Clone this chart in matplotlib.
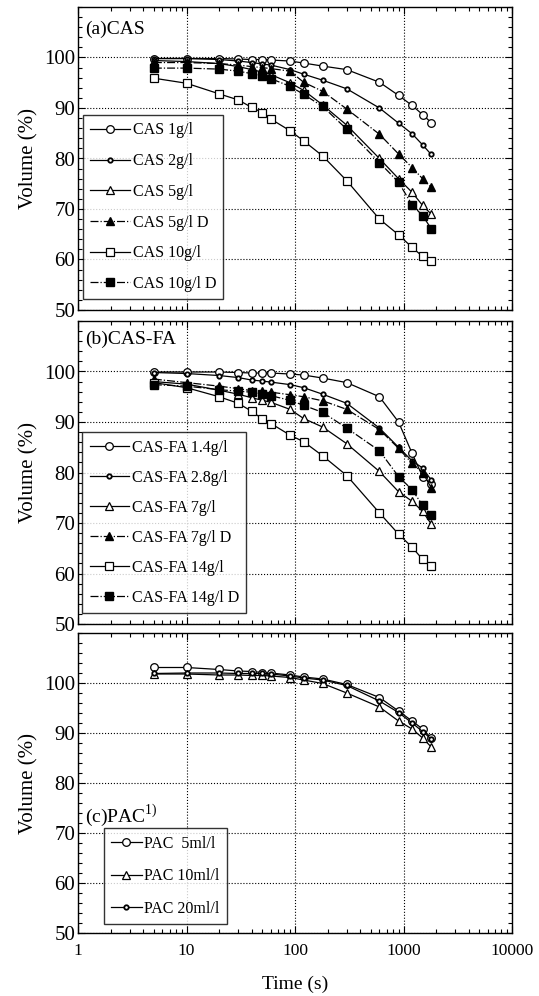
import numpy as np
import matplotlib
matplotlib.use("Agg")
import matplotlib.pyplot as plt
from matplotlib.ticker import MultipleLocator, LogLocator, NullFormatter

plt.rcParams['font.family'] = ['Liberation Serif', 'DejaVu Serif']
plt.rcParams['mathtext.fontset'] = 'custom'
plt.rcParams['mathtext.rm'] = 'Liberation Serif'

# time points (s)
t = np.array([5, 10, 20, 30, 40, 50, 60, 90, 120, 180, 300, 600, 900, 1200, 1500, 1800])

# (a) CAS
cas_1 = [99.8, 99.8, 99.8, 99.7, 99.6, 99.6, 99.5, 99.3, 98.9, 98.3, 97.6, 95.1, 92.5, 90.5, 88.7, 87.1]
cas_2 = [99.8, 99.8, 99.6, 99.3, 99.0, 98.7, 98.5, 97.6, 96.7, 95.5, 93.8, 90.0, 87.0, 84.9, 82.7, 80.8]
cas_5 = [99.4, 99.2, 98.8, 98.2, 97.6, 97.1, 96.6, 95.0, 93.5, 90.6, 86.6, 80.0, 76.0, 73.3, 70.7, 69.0]
cas_5d = [99.0, 99.0, 98.8, 98.5, 98.2, 98.0, 97.8, 97.3, 95.1, 93.3, 89.8, 84.8, 80.9, 78.2, 76.0, 74.3]
cas_10 = [95.9, 94.9, 92.8, 91.6, 90.1, 89.1, 87.8, 85.5, 83.5, 80.5, 75.6, 68.0, 64.9, 62.4, 60.6, 59.8]
cas_10d = [97.9, 97.9, 97.7, 97.3, 96.8, 96.3, 95.8, 94.3, 92.7, 90.3, 85.8, 79.2, 75.3, 70.8, 68.7, 66.1]

# (b) CAS-FA
fa_14 = [99.9, 99.9, 99.9, 99.8, 99.7, 99.7, 99.7, 99.5, 99.3, 98.7, 97.8, 95.0, 90.0, 83.8, 79.2, 77.8]
fa_28 = [99.8, 99.6, 99.2, 98.8, 98.3, 98.1, 97.9, 97.4, 96.8, 95.5, 93.7, 88.8, 85.0, 82.3, 80.9, 78.5]
fa_7 = [98.0, 97.5, 96.3, 95.5, 94.8, 94.3, 93.9, 92.5, 90.7, 89.0, 85.7, 80.2, 76.2, 74.3, 72.3, 69.8]
fa_7d = [98.5, 97.8, 97.1, 96.6, 96.2, 96.1, 95.9, 95.4, 95.0, 94.2, 92.5, 88.5, 84.8, 81.8, 80.0, 77.0]
fa_14g = [97.8, 96.8, 95.0, 93.7, 92.1, 90.6, 89.7, 87.4, 86.1, 83.3, 79.4, 72.0, 67.8, 65.2, 62.8, 61.4]
fa_14d = [97.4, 97.1, 96.4, 96.1, 95.9, 95.5, 95.2, 94.3, 93.3, 91.9, 88.8, 84.3, 79.2, 76.6, 73.5, 71.6]

# (c) PAC
pac_5 = [103.1, 103.1, 102.7, 102.4, 102.3, 102.1, 102.0, 101.6, 101.2, 100.8, 99.7, 97.1, 94.4, 92.4, 90.8, 89.0]
pac_10 = [101.8, 101.8, 101.6, 101.6, 101.5, 101.5, 101.4, 101.1, 100.6, 99.9, 98.0, 95.2, 92.4, 90.8, 89.0, 87.2]
pac_20 = [101.9, 102.0, 102.0, 101.9, 101.9, 101.9, 101.8, 101.4, 101.0, 100.6, 99.5, 96.4, 94.1, 92.0, 90.3, 88.8]

fig = plt.figure(figsize=(5.39, 9.96), dpi=100)
left, width = 78 / 539, 434 / 539
ax_a = fig.add_axes([left, 1 - 310 / 996, width, 303 / 996])
ax_b = fig.add_axes([left, 1 - 624 / 996, width, 303 / 996])
ax_c = fig.add_axes([left, 1 - 933 / 996, width, 300 / 996])

open_kw = dict(mfc='white', mec='black', mew=0.9, color='black', lw=0.9)
dot_kw = dict(mfc='white', mec='black', mew=1.3, color='black', lw=0.9)
fill_kw = dict(mfc='black', mec='black', color='black', lw=0.9)

ax_a.plot(t, cas_1, '-o', ms=5.5, label='CAS 1g/l', **open_kw)
ax_a.plot(t, cas_2, '-o', ms=3.2, label='CAS 2g/l', **dot_kw)
ax_a.plot(t, cas_5, '-^', ms=5.5, label='CAS 5g/l', **open_kw)
ax_a.plot(t, cas_5d, '-.^', ms=5.5, label='CAS 5g/l D', **fill_kw)
ax_a.plot(t, cas_10, '-s', ms=5.5, label='CAS 10g/l', **open_kw)
ax_a.plot(t, cas_10d, '-.s', ms=5.5, label='CAS 10g/l D', **fill_kw)

ax_b.plot(t, fa_14, '-o', ms=5.5, label='CAS-FA 1.4g/l', **open_kw)
ax_b.plot(t, fa_28, '-o', ms=3.2, label='CAS-FA 2.8g/l', **dot_kw)
ax_b.plot(t, fa_7, '-^', ms=5.5, label='CAS-FA 7g/l', **open_kw)
ax_b.plot(t, fa_7d, '-.^', ms=5.5, label='CAS-FA 7g/l D', **fill_kw)
ax_b.plot(t, fa_14g, '-s', ms=5.5, label='CAS-FA 14g/l', **open_kw)
ax_b.plot(t, fa_14d, '-.s', ms=5.5, label='CAS-FA 14g/l D', **fill_kw)

ax_c.plot(t, pac_5, '-o', ms=5.5, label='PAC  5ml/l', **open_kw)
ax_c.plot(t, pac_10, '-^', ms=5.5, label='PAC 10ml/l', **open_kw)
ax_c.plot(t, pac_20, '-o', ms=3.2, label='PAC 20ml/l', **dot_kw)

for ax in (ax_a, ax_b, ax_c):
    ax.set_xscale('log')
    ax.set_xlim(1, 10000)
    ax.set_ylim(50, 110)
    ax.set_yticks([50, 60, 70, 80, 90, 100])
    ax.yaxis.set_minor_locator(MultipleLocator(2))
    ax.xaxis.set_minor_locator(LogLocator(base=10, subs=np.arange(2, 10)))
    ax.xaxis.set_minor_formatter(NullFormatter())
    ax.tick_params(which='both', direction='in', top=True, right=True, width=0.8)
    ax.tick_params(axis='y', labelsize=15, pad=2)
    ax.tick_params(axis='x', labelsize=12.5, pad=7)
    ax.tick_params(which='major', length=5)
    ax.tick_params(which='minor', length=3)
    ax.grid(True, which='major', linestyle=':', color='black', linewidth=0.8)
    for s in ax.spines.values():
        s.set_linewidth(1.0)
    ax.set_ylabel('Volume (%)', fontsize=15)
    ax.yaxis.set_label_coords(-0.092, 0.5)

ax_a.tick_params(labelbottom=False)
ax_b.tick_params(labelbottom=False)
ax_c.set_xticks([1, 10, 100, 1000, 10000])
ax_c.set_xticklabels(['1', '10', '100', '1000', '10000'])
ax_c.set_xlabel('Time (s)', fontsize=14, labelpad=12)

ax_a.text(0.016, 0.925, '(a)CAS', transform=ax_a.transAxes, fontsize=14, va='center')
ax_b.text(0.016, 0.94, '(b)CAS-FA', transform=ax_b.transAxes, fontsize=14, va='center')
ax_c.text(0.016, 0.393, r'(c)PAC$^{\mathrm{1)}}$', transform=ax_c.transAxes, fontsize=14, va='center')

leg_kw = dict(fontsize=11.5, frameon=True, fancybox=False, edgecolor='black',
              handletextpad=0.15, borderaxespad=0, borderpad=0.45)
la = ax_a.legend(loc='lower left', bbox_to_anchor=(0.012, 0.036), labelspacing=0.92,
                 handlelength=2.5, **leg_kw)
lb = ax_b.legend(loc='lower left', bbox_to_anchor=(0.01, 0.036), labelspacing=0.88,
                 handlelength=2.5, **leg_kw)
lc = ax_c.legend(loc='lower left', bbox_to_anchor=(0.06, 0.03), labelspacing=1.04,
                 handlelength=1.9, **leg_kw)
for lg in (la, lb, lc):
    lg.get_frame().set_linewidth(1.0)

fig.savefig('out.png', dpi=100)
